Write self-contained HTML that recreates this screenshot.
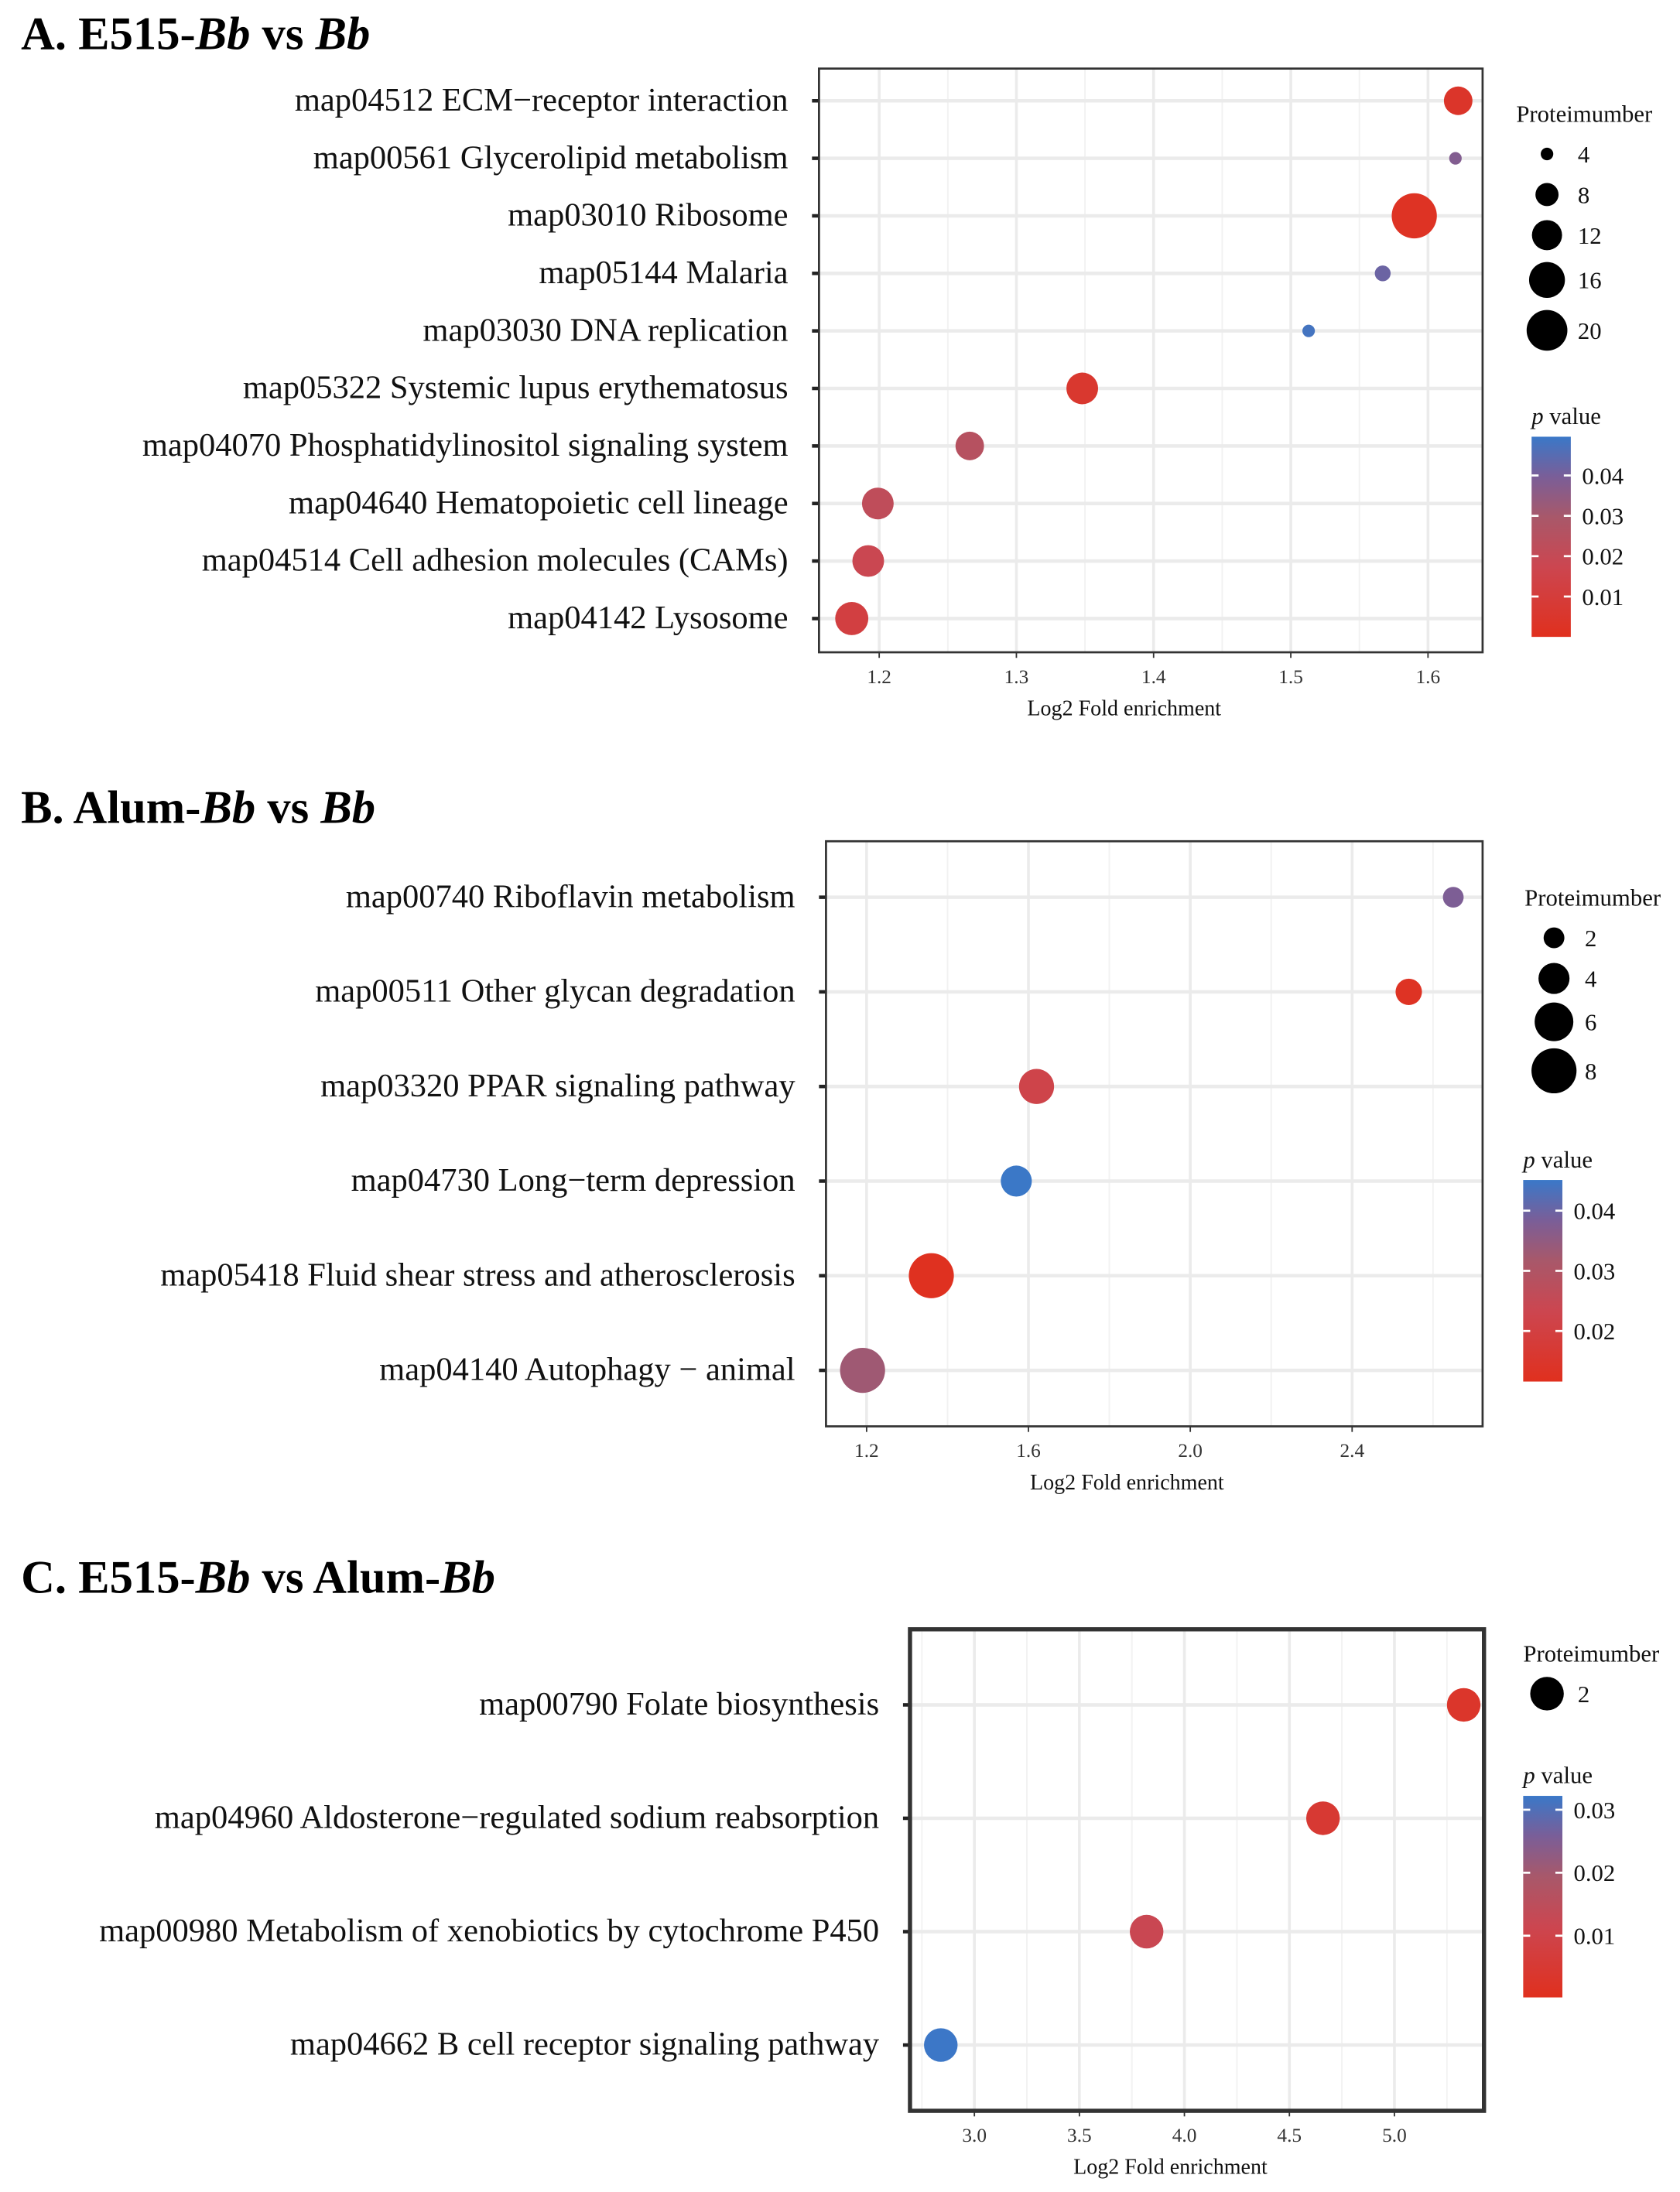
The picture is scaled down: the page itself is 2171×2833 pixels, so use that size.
<!DOCTYPE html>
<html><head><meta charset="utf-8">
<style>
html,body{margin:0;padding:0;background:#fff;}
svg{display:block;font-family:"Liberation Serif","Times New Roman",serif;}
</style></head>
<body>
<svg id="fig" width="2171" height="2833" viewBox="0 0 1200 1566" preserveAspectRatio="none" xmlns="http://www.w3.org/2000/svg">
<defs>
<linearGradient id="gA" x1="0" y1="1" x2="0" y2="0"><stop offset="0" stop-color="#e0301e"/><stop offset="0.35" stop-color="#cc4650"/><stop offset="0.6" stop-color="#a8586a"/><stop offset="0.8" stop-color="#7a5e98"/><stop offset="1" stop-color="#3a78c8"/></linearGradient>
</defs>
<text x="15" y="35" font-size="33.5" font-weight="bold">A. E515-<tspan font-style="italic">Bb</tspan> vs <tspan font-style="italic">Bb</tspan></text>
<text x="15" y="588" font-size="33.5" font-weight="bold">B. Alum-<tspan font-style="italic">Bb</tspan>  vs <tspan font-style="italic">Bb</tspan></text>
<text x="15" y="1138" font-size="33.5" font-weight="bold">C. E515-<tspan font-style="italic">Bb</tspan> vs  Alum-<tspan font-style="italic">Bb</tspan></text>
</svg>
<script>
// Panel A data
const catsA = ["map04512 ECM\u2212receptor interaction","map00561 Glycerolipid metabolism","map03010 Ribosome","map05144 Malaria","map03030 DNA replication","map05322 Systemic lupus erythematosus","map04070 Phosphatidylinositol signaling system","map04640 Hematopoietic cell lineage","map04514 Cell adhesion molecules (CAMs)","map04142 Lysosome"];
const foldA = [1.622,1.620,1.590,1.567,1.513,1.348,1.266,1.199,1.192,1.180];
const countA = [11,4,24,5,4,13,11,13,13,14];
const pA = [0.004,0.038,0.002,0.042,0.048,0.006,0.025,0.022,0.018,0.012];
const ticksA = ["1.2","1.3","1.4","1.5","1.6"];
const sizeLegA = [4,8,12,16,20];
const pTicksA = ["0.04","0.03","0.02","0.01"];
// Panel B data
const catsB = ["map00740 Riboflavin metabolism","map00511 Other glycan degradation","map03320 PPAR signaling pathway","map04730 Long\u2212term depression","map05418 Fluid shear stress and atherosclerosis","map04140 Autophagy \u2212 animal"];
const foldB = [2.65,2.54,1.62,1.57,1.36,1.19];
const countB = [2,3,5,4,8,8];
const pB = [0.038,0.013,0.022,0.045,0.012,0.033];
const ticksB = ["1.2","1.6","2.0","2.4"];
const sizeLegB = [2,4,6,8];
const pTicksB = ["0.04","0.03","0.02"];
// Panel C data
const catsC = ["map00790 Folate biosynthesis","map04960 Aldosterone\u2212regulated sodium reabsorption","map00980 Metabolism of xenobiotics by cytochrome P450","map04662 B cell receptor signaling pathway"];
const foldC = [5.33,4.66,3.82,2.84];
const countC = [2,2,2,2];
const pC = [0.003,0.005,0.012,0.032];
const ticksC = ["3.0","3.5","4.0","4.5","5.0"];
const sizeLegC = [2];
const pTicksC = ["0.03","0.02","0.01"];

const NS="http://www.w3.org/2000/svg";
const svg=document.getElementById('fig');
function mk(tag,attrs,parent){const e=document.createElementNS(NS,tag);for(const k in attrs)e.setAttribute(k,attrs[k]);(parent||svg).appendChild(e);return e;}
const stops=[[0,[224,48,30]],[0.35,[204,70,80]],[0.6,[168,88,106]],[0.8,[122,94,152]],[1,[58,120,200]]];
function colorAt(t){t=Math.max(0,Math.min(1,t));for(let i=1;i<stops.length;i++){if(t<=stops[i][0]){const a=stops[i-1],b=stops[i];const f=(t-a[0])/(b[0]-a[0]);const c=a[1].map((v,j)=>Math.round(v+(b[1][j]-v)*f));return `rgb(${c[0]},${c[1]},${c[2]})`;}}return 'rgb(58,120,200)';}

function panel(cfg,cats,fold,count,pv,ticks,sizeLeg,pTicks,id){
  const g=mk('g',{});
  
  
  const X=v=>cfg.x0+(v-cfg.v0)*cfg.ppu;
  const Yr=i=>cfg.row0+i*cfg.rowStep;
  const R=n=>Math.sqrt(Math.max(0,cfg.r2a+cfg.r2b*n));
  const P=p=>(p-cfg.pmin)/(cfg.pmax-cfg.pmin);
  ticks.forEach((t,i)=>{const v=parseFloat(t);[v-cfg.step/2,v+cfg.step/2].forEach(m=>{const x=X(m);if(x>cfg.L+2&&x<cfg.R-2){const l=mk('line',{x1:x,x2:x,y1:cfg.T,y2:cfg.B,stroke:'#f2f2f2','stroke-width':1},g);}});});
  ticks.forEach(t=>{const x=X(parseFloat(t));const l=mk('line',{x1:x,x2:x,y1:cfg.T,y2:cfg.B,stroke:'#ebebeb','stroke-width':2},g);
    const tk=mk('line',{x1:x,x2:x,y1:cfg.B,y2:cfg.B+4,stroke:'#333','stroke-width':1},g);
    const tx=mk('text',{x:x,y:cfg.B+22,'font-size':14,'text-anchor':'middle',fill:'#333'},g);tx.textContent=t;});
  cats.forEach((c,i)=>{const y=Yr(i);
    const l=mk('line',{x1:cfg.L,x2:cfg.R,y1:y,y2:y,stroke:'#ebebeb','stroke-width':2.5},g);
    const tk=mk('line',{x1:cfg.L-5,x2:cfg.L,y1:y,y2:y,stroke:'#222','stroke-width':2.5},g);
    const tx=mk('text',{x:cfg.L-22,y:y+7,'font-size':23.5,'text-anchor':'end',fill:'#111'},g);tx.textContent=c;});
  cats.forEach((c,i)=>{const ci=mk('circle',{cx:X(fold[i]),cy:Yr(i),r:R(count[i]),fill:colorAt(P(pv[i]))},g);});
  const bx=mk('rect',{x:cfg.L,y:cfg.T,width:cfg.R-cfg.L,height:cfg.B-cfg.T,fill:'none',stroke:'#333','stroke-width':cfg.bw},g);
  const xt=mk('text',{x:cfg.xtc,y:cfg.B+45,'font-size':15.5,'text-anchor':'middle',fill:'#111'},g);xt.textContent='Log2 Fold enrichment';
  const st=mk('text',{x:cfg.lx,y:cfg.ly,'font-size':17,fill:'#111'},g);st.textContent='Proteimumber';
  sizeLeg.forEach((n,i)=>{const y=cfg.legY[i];const c=mk('circle',{cx:cfg.lcx,cy:y,r:R(n),fill:'#000'},g);
    const t=mk('text',{x:cfg.lcx+22,y:y+6,'font-size':17,fill:'#111'},g);t.textContent=n;});
  const pt=mk('text',{x:cfg.cbx,y:cfg.cby-9,'font-size':17,fill:'#111'},g);pt.innerHTML='<tspan font-style="italic">p</tspan> value';
  const cb=mk('rect',{x:cfg.cbx,y:cfg.cby,width:28,height:cfg.cbh,fill:'url(#gA)'},g);
  pTicks.forEach(t=>{const y=cfg.cby+cfg.cbh*(1-P(parseFloat(t)));
    mk('line',{x1:cfg.cbx,x2:cfg.cbx+5,y1:y,y2:y,stroke:'#fff','stroke-width':1.5},g);mk('line',{x1:cfg.cbx+23,x2:cfg.cbx+28,y1:y,y2:y,stroke:'#fff','stroke-width':1.5},g);
    const tx=mk('text',{x:cfg.cbx+36,y:y+6,'font-size':17,fill:'#111'},g);tx.textContent=t;});
}
panel({L:585,R:1059,T:49,B:466,x0:628,v0:1.2,ppu:980,step:0.1,row0:72,rowStep:41.1,r2a:-28,r2b:12,pmin:0,pmax:0.0496,bw:1.5,lx:1083,ly:87,lcx:1105,legY:[110,139,168,200,236],cbx:1094,cby:312,cbh:143,xtc:803},catsA,foldA,countA,pA,ticksA,sizeLegA,pTicksA,'panel-a');
panel({L:590,R:1059,T:601,B:1019,x0:619,v0:1.2,ppu:289,step:0.4,row0:641,rowStep:67.6,r2a:-13,r2b:34,pmin:0.0116,pmax:0.0451,bw:1.5,lx:1089,ly:647,lcx:1110,legY:[670,699,730,765],cbx:1088,cby:843,cbh:144,xtc:805},catsB,foldB,countB,pB,ticksB,sizeLegB,pTicksB,'panel-b');
panel({L:650,R:1060,T:1164,B:1508,x0:696,v0:3.0,ppu:150,step:0.5,row0:1218,rowStep:81,r2a:0,r2b:72,pmin:0.0002,pmax:0.0322,bw:3,lx:1088,ly:1187,lcx:1105,legY:[1210],cbx:1088,cby:1283,cbh:144,xtc:836},catsC,foldC,countC,pC,ticksC,sizeLegC,pTicksC,'panel-c');
</script>
</body></html>
